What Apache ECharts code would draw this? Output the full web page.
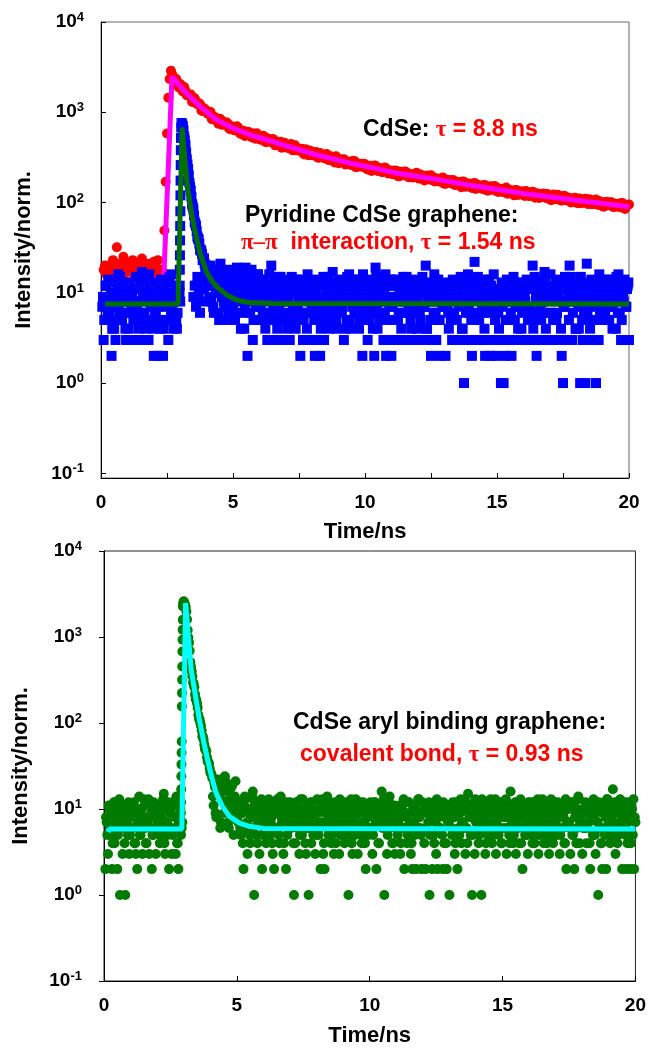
<!DOCTYPE html>
<html>
<head>
<meta charset="utf-8">
<script src="https://cdn.jsdelivr.net/npm/echarts@6/dist/echarts.min.js"></script>
<style>
html,body{margin:0;padding:0;background:#fff;}
#c{width:649px;height:1048px;}
</style>
</head>
<body>
<div id="c"></div>
<script>
// ---------- tick labels ----------
const yTickValues = [0.1, 1, 10, 100, 1000, 10000];
const xLabelValues = [0, 5, 10, 15, 20];
const xTickValuesTop = [0, 2.5, 5, 7.5, 10, 12.5, 15, 17.5, 20];
const xTickValuesBottom = [0, 5, 10, 15, 20];

// ---------- top chart: CdSe (red) ----------
// channels every 0.1 ns from 0.1 ns
const redStart = 0.1, redStep = 0.1;
const redVals = [
  18,16,20,17,22,32,19,15,21,17,18,23,16,19,20,17,21,18,16,22,19,17,18,
  49,583,2340,2600,
  2360,2040,2060,1700,1725,1535,1570,1290,1310,1260,
  1050,1110,1000,1015,835,885,790,850,725,745,
  750,650,680,630,675,575,625,580,605,530,
  555,585,505,530,475,515,475,505,430,465,
  470,415,430,405,445,380,405,380,395,340,
  378,378,335,350,316,353,318,328,298,325,
  295,326,273,295,301,265,278,260,288,247,
  268,251,265,232,255,242,255,223,237,221,
  239,209,226,212,224,195,212,220,196,204,
  189,205,191,205,180,195,181,200,174,185,
  172,185,162,179,168,178,156,169,157,171,
  150,160,149,161,141,156,146,156,137,148,
  139,152,133,141,132,142,125,138,130,138,
  121,131,122,134,118,125,117,127,112,124,
  116,124,109,118,111,122,106,113,106,114,
  100,111,104,111,98,106,99,109,96,102,
  95,103,91,101,95,101,89,97,90,99,
  87,93,95
];
// interleaved channels every 0.1 ns from 0.15 ns
const red2Start = 0.15, red2Step = 0.1;
const redVals2 = [
  20,17,19,23,16,18,21,25,17,19,22,16,20,18,24,17,19,21,16,20,23,18,17,
  170,1445,2880,
  2270,2340,1880,1960,1905,1540,1545,1305,1430,1230,
  1235,1030,1070,955,1005,840,870,745,820,735,
  775,660,700,630,700,595,620,545,610,545,
  580,510,545,497,550,465,505,465,495,435,
  460,405,460,405,430,380,430,378,390,355,
  390,335,370,338,363,313,337,309,345,295,
  312,277,314,282,300,264,285,262,290,246,
  271,250,269,238,254,224,257,227,242,216,
  244,216,224,206,227,196,219,203,219,191,
  206,190,214,184,196,175,199,180,193,171,
  185,170,189,161,178,164,177,157,168,148,
  170,151,162,145,165,146,152,141,155,135,
  151,139,150,131,142,131,147,127,135,120,
  137,124,133,118,128,119,132,113,125,116,
  126,112,120,106,123,109,117,105,119,106,
  111,102,113,98,110,101,110,96,105,96,
  108,94,100,90,102,93,100,89,96,89,
  99,85,94
];

// CdSe fit (magenta)
const fitCdSeT = [2.0,2.38,2.69,2.8,2.9,3.0,3.13,3.3,3.5,3.76,4.0,4.2,4.39,4.7,5.02,5.3,5.66,6.3,6.92,7.5,8.18,8.8,9.44,10.3,11.27,12.5,14,16,18,20];
const fitCdSeV = [14,15,2480,2273,2100,1941,1755,1567,1371,1153,1012,907,820,738,664,617,560,493,433,386,336,304,272,242,210,185,155,126,106,90];

// ---------- top chart: Pyridine CdSe graphene (blue) ----------
const blueStart = 0.05, blueStep = 0.05;
const blueVals = [
  7,3,9,12,6,5,8,2,10,4,3,7,16,6,9,5,8,13,3,6,
  4,9,7,3,11,6,8,5,14,3,17,10,6,4,9,3,12,5,8,2,
  6,10,2,7,4,9,2,11,5,8,3,15,6,7,4,10,5,6,9,8,
  760,700,540,430,300,235,165,135,96,84,61,55,42,39,30,29,23,24,18,20,
  16,9,20,12,7,15,11,18,6,13,10,14,8,12,17,5,11,9,13,7,
  10,6,19,8,12,4,15,9,7,11,2,13,6,18,3,9,12,5,16,8,
  7,11,5,14,9,3,12,6,20,8,3,10,5,13,7,15,3,9,6,11,
  4,8,3,12,6,10,5,14,7,9,2,11,3,6,13,4,8,3,10,7,
  9,2,6,12,3,2,8,5,3,11,7,15,4,10,6,9,13,5,8,11,
  6,10,7,3,12,5,9,16,4,8,11,6,14,7,10,5,9,2,12,6,
  8,3,11,6,9,4,2,19,7,10,5,12,8,3,6,2,9,3,14,2,
  7,12,3,9,5,11,3,8,15,6,10,3,7,13,4,9,3,11,6,8,
  10,5,3,12,7,20,4,3,11,2,8,6,14,3,9,5,2,10,7,12,
  2,9,6,11,5,3,13,8,3,10,7,3,12,4,1,9,3,16,6,8,
  2,11,22,3,9,5,12,3,8,6,2,10,3,14,2,7,3,11,2,9,
  6,3,1,10,1,2,8,3,12,5,2,9,3,7,11,4,3,13,6,8,
  10,3,7,12,3,6,20,3,14,2,5,11,7,3,8,17,4,9,3,10,
  6,12,3,8,5,10,3,13,2,1,7,11,3,9,20,15,3,8,10,4,
  9,4,1,12,3,6,1,21,7,3,11,5,3,8,1,13,3,6,9,7,
  11,6,9,14,5,8,12,7,10,4,9,16,6,3,11,8,3,7,12,3
];
const blue2Start = 0.075, blue2Step = 0.05;
const blueVals2 = [
  9,5,12,7,14,6,10,4,8,13,5,11,7,15,9,6,12,4,10,8,
  13,6,9,5,11,15,7,4,12,8,10,6,14,5,9,16,7,11,4,13,
  6,12,8,5,14,9,4,11,7,13,5,10,16,6,8,12,4,9,10,380,
  740,630,490,360,265,200,150,115,90,72,58,48,40,35,30,27,24,21,19,15,
  12,19,8,14,6,17,10,13,5,21,9,15,7,12,18,6,11,14,8,16,
  5,13,9,17,6,11,14,4,19,8,12,6,15,10,5,13,7,16,9,11,
  14,6,10,4,12,8,16,5,11,7,13,9,4,15,6,10,12,5,8,14,
  9,12,5,15,7,11,4,13,8,6,14,10,5,12,9,16,6,11,7,13,
  5,10,14,7,12,4,9,15,6,11,8,13,5,10,17,7,12,4,9,14,
  11,6,13,8,4,15,10,5,12,7,14,9,6,11,4,13,8,16,5,10,
  7,14,5,10,12,6,9,15,4,11,8,13,6,10,16,5,12,7,9,14,
  12,5,9,14,6,11,4,13,8,10,15,6,12,5,9,14,7,11,4,13,
  6,10,15,7,12,4,9,13,5,11,8,16,6,10,14,5,12,7,9,11,
  13,7,4,11,9,14,6,10,5,12,8,15,4,9,13,6,11,7,14,5,
  10,12,6,9,15,5,11,7,13,4,10,14,8,6,12,9,16,5,11,7,
  4,9,13,7,11,5,14,8,10,6,12,15,5,9,11,7,13,4,10,12,
  8,14,5,11,7,12,4,15,9,6,13,10,5,12,8,14,6,11,9,16,
  11,5,10,13,6,9,14,4,12,7,15,8,11,5,13,9,6,12,4,10,
  7,12,15,5,10,8,13,6,11,4,14,9,7,12,5,10,16,6,13,8,
  12,5,9,14,7,11,4,13,8,15,6,10,12,5,9,14,7,11,13
];
const blueExtraT = [2.98,2.985,2.99,2.995,3.0,3.005,3.01,3.015,3.02,3.03,3.04,
  3.5,3.55,3.6,3.65,3.7,3.75,3.8,3.85,3.9,3.95];
const blueExtraV = [12,18,26,38,55,80,120,175,260,520,680,
  9,12,7,15,10,6,13,8,11,14];

// Pyridine fit (dark green)
const fitPyT = [0.15,2.92,3.07,3.15,3.26,3.35,3.45,3.6,3.76,4.0,4.2,4.39,4.8,5.15,5.6,6.5,20];
const fitPyV = [7.5,7.5,680,373,163,109,70,43,27,17,13.5,11.6,9.3,8.3,7.8,7.6,7.5];

// ---------- bottom chart: CdSe aryl binding graphene (green) ----------
const greenStart = 0.05, greenStep = 0.05;
const greenVals = [
  2,7,3,10,5,2,8,4,12,2,6,1,9,3,7,1,11,5,3,8,
  6,9,4,3,2,10,5,7,3,13,6,4,8,3,11,2,5,9,3,7,
  8,4,10,6,15,3,7,5,2,9,3,12,6,3,4,2,8,5,7,2600,
  2350,1980,1200,860,510,400,295,260,190,170,124,110,92,70,64,50,47,36,34,27,
  25,14,20,9,19,22,15,7,17,12,24,10,16,6,13,18,8,11,21,9,
  7,12,5,9,2,14,6,3,10,4,8,16,1,5,11,7,3,9,2,6,
  10,4,7,13,5,8,3,2,11,6,9,4,14,7,3,10,2,5,8,12,
  6,9,1,4,11,7,3,13,5,8,10,3,6,1,9,4,12,7,3,5,
  9,6,2,11,3,2,7,14,5,10,4,8,3,12,6,9,3,5,11,7,
  4,10,6,1,8,13,3,7,5,11,3,9,6,4,12,7,2,8,5,10,
  6,3,9,12,2,7,4,10,16,8,1,11,3,6,14,9,4,7,3,10,
  5,8,3,11,6,2,9,4,12,7,3,2,10,5,2,8,13,6,2,9,
  4,2,10,7,1,9,2,5,12,3,2,8,6,11,2,4,9,2,7,1,
  10,5,8,3,12,2,6,9,4,7,11,3,6,15,8,5,1,10,3,7,
  9,4,12,1,6,8,3,10,5,7,13,4,9,6,3,11,5,8,4,10,
  6,11,3,8,5,16,7,4,9,3,12,6,8,4,2,10,5,7,3,9,
  12,5,8,4,10,6,3,9,7,13,4,8,5,11,3,6,9,4,12,7,
  5,9,3,11,6,8,4,2,10,7,3,12,5,2,9,6,14,4,8,3,
  10,6,4,9,7,2,12,5,8,3,11,1,6,4,2,9,5,2,13,7,
  4,8,17,6,3,10,5,7,9,2,12,6,2,4,8,2,11,5,2,7
];
const green2Start = 0.075, green2Step = 0.05;
const greenVals2 = [
  8,5,11,6,9,4,12,7,10,5,13,8,6,11,4,9,7,12,5,10,
  6,12,4,9,7,14,5,10,8,11,4,7,13,6,9,5,12,8,10,6,
  11,5,8,13,4,10,7,12,6,9,5,11,8,14,4,7,10,6,2450,2500,
  2250,1600,980,690,450,350,285,215,185,150,112,100,82,69,56,49,40,35,30,26,
  23,11,18,8,15,20,6,13,17,9,21,12,7,16,10,19,5,14,11,8,
  12,6,9,4,11,13,7,10,5,8,14,6,12,9,4,11,7,13,5,10,
  8,11,5,10,7,4,12,9,6,13,5,10,8,11,4,9,12,6,10,7,
  11,4,8,12,6,10,5,9,13,7,4,11,8,6,12,10,5,9,7,13,
  5,10,7,13,4,9,11,6,8,12,5,10,7,4,11,8,13,6,9,5,
  12,7,9,5,11,4,10,8,13,6,9,12,5,7,10,4,11,8,6,12,
  9,5,12,7,10,4,8,11,6,13,7,9,5,12,8,10,4,11,6,9,
  7,11,4,10,13,6,8,5,12,9,4,11,7,10,6,13,8,5,12,9,
  10,6,9,12,5,8,11,4,7,13,9,6,10,5,12,8,4,11,7,10,
  6,12,8,4,11,9,5,13,7,10,6,12,4,9,11,8,5,10,13,7,
  11,5,9,13,7,10,4,12,8,6,11,9,5,13,7,10,6,12,4,9,
  8,13,6,10,4,11,9,5,12,7,10,4,13,8,6,11,9,5,12,7,
  10,4,12,7,9,13,5,11,8,6,12,9,4,10,7,13,5,11,8,6,
  12,8,5,11,9,4,13,7,10,6,11,5,12,8,4,10,13,7,9,6,
  9,12,6,10,4,11,8,13,5,9,7,12,10,4,11,6,8,13,5,10,
  7,11,5,12,9,4,10,13,6,8,11,5,12,7,9,4,10,13,8
];
const greenExtraT = [2.89,2.895,2.9,2.905,2.91,2.915,2.92,2.925,2.93,2.935,2.94,2.945,2.95,2.955,2.96,2.965,2.97];
const greenExtraV = [6.3,9,12,17,24,33,45,61,156,223,318,455,679,931,1216,1585,2270];

// Aryl fit (cyan)
const fitArylT = [0.15,0.2,2.93,3.07,3.18,3.28,3.43,3.59,3.75,3.9,4.05,4.22,4.45,4.72,5.1,5.47,6.0,20];
const fitArylV = [5.4,5.85,5.85,2480,973,417,218,109,61.5,37,23.6,15.3,10.8,8.2,6.86,6.3,5.95,5.85];

// ---------- helpers ----------
function sampled(start, step, vals) { return vals.map((v, i) => [Math.round((start + step * i) * 1000) / 1000, v]); }
function zip(ts, vs) { return ts.map((t, i) => [t, vs[i]]); }

const FONT = '"Liberation Sans", Arial, Helvetica, sans-serif';
const SERIF = '"Liberation Serif", "Times New Roman", serif';

function yAxisDef(gridIndex, min, margin, nameGap, tickInside) {
  return {
    type: 'log', logBase: 10, gridIndex, min, max: 10000,
    name: 'Intensity/norm.', nameLocation: 'middle', nameGap,
    nameTextStyle: { fontFamily: FONT, fontWeight: 'bold', fontSize: 22, color: '#000' },
    axisLine: { show: true, lineStyle: { color: '#000', width: 1 } },
    axisTick: { show: true, inside: tickInside, length: 5, customValues: yTickValues, lineStyle: { color: '#000', width: 1 } },
    minorTick: { show: false },
    splitLine: { show: false },
    axisLabel: {
      customValues: yTickValues, margin,
      formatter: v => '{b|10}{s|' + Math.round(Math.log10(v)) + '}',
      rich: {
        b: { fontFamily: FONT, fontWeight: 'bold', fontSize: 19, color: '#000', lineHeight: 22 },
        s: { fontFamily: FONT, fontWeight: 'bold', fontSize: 13, color: '#000', verticalAlign: 'top', lineHeight: 14 }
      }
    }
  };
}
function xAxisDef(gridIndex, ticks, nameGap) {
  return {
    type: 'value', gridIndex, min: 0, max: 20,
    name: 'Time/ns', nameLocation: 'middle', nameGap,
    nameTextStyle: { fontFamily: FONT, fontWeight: 'bold', fontSize: 22, color: '#000' },
    axisLine: { show: true, onZero: false, lineStyle: { color: '#000', width: 1 } },
    axisTick: { show: true, inside: true, length: 5, customValues: ticks, lineStyle: { color: '#000', width: 1 } },
    splitLine: { show: false },
    axisLabel: { customValues: xLabelValues, margin: 15, fontFamily: FONT, fontWeight: 'bold', fontSize: 19, color: '#000' }
  };
}

const chart = echarts.init(document.getElementById('c'), null, { renderer: 'canvas' });
const richAnn = {
  k: { fontFamily: FONT, fontWeight: 'bold', fontSize: 23, fill: '#000000', lineHeight: 26 },
  r: { fontFamily: FONT, fontWeight: 'bold', fontSize: 23, fill: '#FF0000', lineHeight: 26 },
  g: { fontFamily: SERIF, fontWeight: 'bold', fontSize: 23, fill: '#FF0000', lineHeight: 26 }
};
function ann(x, y, text) {
  return { type: 'text', x, y, z: 100, style: { text, rich: richAnn, align: 'left', verticalAlign: 'middle' } };
}
const scatterStyle = c => ({ color: c, opacity: 1, borderWidth: 0 });

chart.setOption({
  animation: false,
  backgroundColor: '#fff',
  grid: [
    { left: 101, top: 22, width: 528, height: 456, show: true, borderColor: '#666', borderWidth: 1, backgroundColor: 'transparent', containLabel: false },
    { left: 104, top: 551, width: 533, height: 431, show: true, borderColor: '#222', borderWidth: 1, backgroundColor: 'transparent', containLabel: false }
  ],
  xAxis: [ xAxisDef(0, xTickValuesTop, 43), xAxisDef(1, xTickValuesBottom, 44) ],
  yAxis: [ yAxisDef(0, 0.0887, 17, 66, true), yAxisDef(1, 0.1, 22, 72, false) ],
  series: [
    { type: 'scatter', xAxisIndex: 0, yAxisIndex: 0, z: 1, clip: false, symbol: 'circle', symbolSize: 10,
      itemStyle: scatterStyle('#FF0000'),
      data: sampled(redStart, redStep, redVals).concat(sampled(red2Start, red2Step, redVals2)) },
    { type: 'line', xAxisIndex: 0, yAxisIndex: 0, z: 2, showSymbol: false, symbol: 'none',
      lineStyle: { color: '#FF00FF', width: 5 }, data: zip(fitCdSeT, fitCdSeV) },
    { type: 'scatter', xAxisIndex: 0, yAxisIndex: 0, z: 3, clip: false, symbol: 'rect', symbolSize: 10,
      itemStyle: scatterStyle('#0000FF'),
      data: sampled(blueStart, blueStep, blueVals).concat(sampled(blue2Start, blue2Step, blueVals2), zip(blueExtraT, blueExtraV)) },
    { type: 'line', xAxisIndex: 0, yAxisIndex: 0, z: 4, showSymbol: false, symbol: 'none',
      lineStyle: { color: '#007000', width: 5 }, data: zip(fitPyT, fitPyV) },
    { type: 'scatter', xAxisIndex: 1, yAxisIndex: 1, z: 1, clip: false, symbol: 'circle', symbolSize: 10,
      itemStyle: scatterStyle('#007A00'),
      data: sampled(greenStart, greenStep, greenVals).concat(sampled(green2Start, green2Step, greenVals2), zip(greenExtraT, greenExtraV)) },
    { type: 'line', xAxisIndex: 1, yAxisIndex: 1, z: 2, showSymbol: false, symbol: 'none',
      lineStyle: { color: '#00FFFF', width: 5 }, data: zip(fitArylT, fitArylV) }
  ],
  graphic: [
    ann(363, 130, '{k|CdSe: }{g|τ}{r| = 8.8 ns}'),
    ann(245, 216, '{k|Pyridine CdSe graphene:}'),
    ann(241, 243, '{g|π–π}{r|  interaction, }{g|τ}{r| = 1.54 ns}'),
    ann(293, 723, '{k|CdSe aryl binding graphene:}'),
    ann(300, 755, '{r|covalent bond, }{g|τ}{r| = 0.93 ns}')
  ]
});
</script>
</body>
</html>
